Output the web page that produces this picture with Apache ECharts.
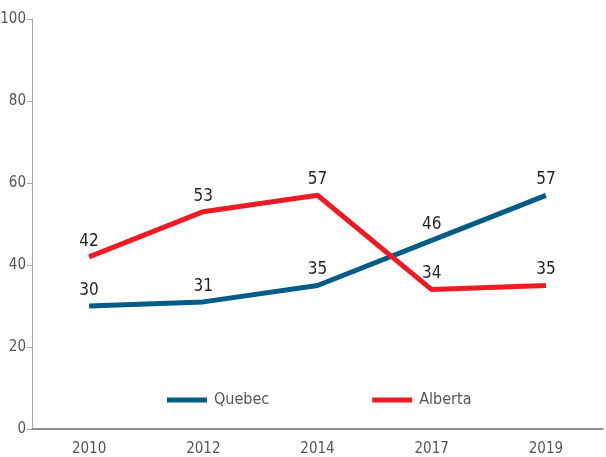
<!DOCTYPE html>
<html><head><meta charset="utf-8">
<script src="https://cdn.jsdelivr.net/npm/echarts@6/dist/echarts.min.js"></script>
<style>html,body{margin:0;padding:0;background:#fff}#c{width:606px;height:457px}</style>
</head><body><div id="c"></div>
<script>
const categories = ['2010','2012','2014','2017','2019'];
const quebec = [30,31,35,46,57];
const alberta = [42,53,57,34,35];
const yTicks = [0,20,40,60,80,100];
const FONT = '"Liberation Sans Narrow","DejaVu Sans Condensed",sans-serif';
const chart = echarts.init(document.getElementById('c'));
const lbl = {show:true, position:'top', distance:7, color:'#231f20', fontSize:17, fontFamily:FONT};
chart.setOption({
  animation:false,
  grid:{left:32, right:3, top:19, bottom:28, containLabel:false, outerBoundsMode:'none'},
  legend:{
    left:162, top:387, icon:'rect', itemWidth:40, itemHeight:5, itemGap:103,
    textStyle:{color:'#555', fontSize:16, fontFamily:FONT, padding:[0,0,0,2]},
    data:['Quebec','Alberta']
  },
  xAxis:{
    type:'category', data:categories, boundaryGap:true,
    axisLine:{lineStyle:{color:'#6d6e71', width:1.5}},
    axisTick:{show:false},
    axisLabel:{color:'#555', fontSize:15, fontFamily:FONT, margin:13}
  },
  yAxis:{
    type:'value', min:0, max:100, interval:20,
    axisLine:{show:true, lineStyle:{color:'#a7a9ac', width:1}},
    axisTick:{show:true, length:5, lineStyle:{color:'#a7a9ac'}},
    splitLine:{show:false},
    axisLabel:{color:'#555', fontSize:15, fontFamily:FONT, margin:6,
      formatter:v=>yTicks.includes(v)?String(v):''}
  },
  series:[
    {name:'Quebec', type:'line', data:quebec, color:'#005c87', symbol:'circle', symbolSize:0.1, showSymbol:true,
     lineStyle:{width:5, color:'#005c87'}, label:lbl},
    {name:'Alberta', type:'line', data:alberta, color:'#ed1c24', symbol:'circle', symbolSize:0.1, showSymbol:true,
     lineStyle:{width:5, color:'#ed1c24'}, label:lbl}
  ]
});
</script></body></html>
